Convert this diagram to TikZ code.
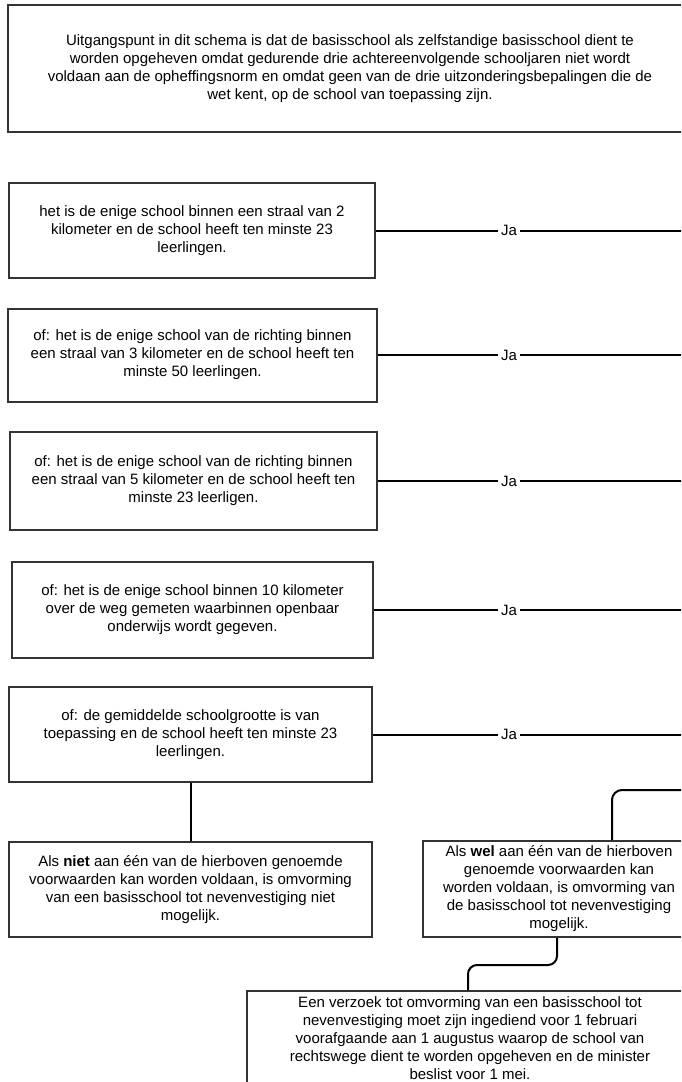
\documentclass[tikz,border=0pt]{standalone}
\usepackage{fontspec}
\setmainfont{Liberation Sans}
\begin{document}
\begin{tikzpicture}[x=1pt,y=-1pt,
  box/.style={draw=black!80, line width=2pt, fill=white, align=center, inner sep=0pt, font=\fontsize{15}{18}\selectfont},
  conn/.style={line width=2pt, draw=black},
  ja/.style={fill=white, inner sep=3pt, font=\fontsize{15}{18}\selectfont}]
\useasboundingbox (0,0) rectangle (681,1082);
\clip (0,0) rectangle (681,1082);
\fill[white] (0,0) rectangle (681,1082);

\node[box, minimum width=684pt, minimum height=127pt] (top) at (350,68.5) {Uitgangspunt in dit schema is dat de basisschool als zelfstandige basisschool dient te\\worden opgeheven omdat gedurende drie achtereenvolgende schooljaren niet wordt\\voldaan aan de opheffingsnorm en omdat geen van de drie uitzonderingsbepalingen die de\\wet kent, op de school van toepassing zijn.};

\node[box, minimum width=366pt, minimum height=95pt] (b1) at (192,230.5) {het is de enige school binnen een straal van 2\\kilometer en de school heeft ten minste 23\\leerlingen.};
\node[box, minimum width=369pt, minimum height=93pt] (b2) at (192.5,355) {of: het is de enige school van de richting binnen\\een straal van 3 kilometer en de school heeft ten\\minste 50 leerlingen.};
\node[box, minimum width=367pt, minimum height=98pt] (b3) at (193.5,481) {of: het is de enige school van de richting binnen\\een straal van 5 kilometer en de school heeft ten\\minste 23 leerligen.};
\node[box, minimum width=361pt, minimum height=96pt] (b4) at (192.5,610) {of: het is de enige school binnen 10 kilometer\\over de weg gemeten waarbinnen openbaar\\onderwijs wordt gegeven.};
\node[box, minimum width=363pt, minimum height=95pt] (b5) at (190.5,734.5) {of: de gemiddelde schoolgrootte is van\\toepassing en de school heeft ten minste 23\\leerlingen.};

\node[box, minimum width=363pt, minimum height=95pt] (niet) at (190.5,889.5) {Als \textbf{niet} aan één van de hierboven genoemde\\voorwaarden kan worden voldaan, is omvorming\\van een basisschool tot nevenvestiging niet\\mogelijk.};
\node[box, minimum width=272pt, minimum height=96pt] (wel) at (559,889) {Als \textbf{wel} aan één van de hierboven\\genoemde voorwaarden kan\\worden voldaan, is omvorming van\\de basisschool tot nevenvestiging\\mogelijk.};
\node[box, minimum width=446pt, minimum height=95pt, text depth=0pt] (verz) at (470,1038.5) {Een verzoek tot omvorming van een basisschool tot\\nevenvestiging moet zijn ingediend voor 1 februari\\voorafgaande aan 1 augustus waarop de school van\\rechtswege dient te worden opgeheven en de minister\\beslist voor 1 mei.};

\foreach \b in {b1,b2,b3,b4,b5} {
  \coordinate (r\b) at ([xshift=40pt]\b.east -| 681,0);
}
\foreach \b in {b1,b2,b3,b4,b5} {
  \draw[conn] (\b.east) -- (r\b);
  \path (\b.east -| 509,0) node[ja] (ja\b) {Ja};
}

\draw[conn] (b5.south) -- (niet.north);

\coordinate (welr) at (700,790);
\draw[conn, rounded corners=10pt] (wel.north -| 612,0) |- (welr);

\draw[conn, rounded corners=9pt] (wel.south -| 557,0) -- (557,965) -- (468,965) -- (verz.north -| 468,0);
\end{tikzpicture}
\end{document}
